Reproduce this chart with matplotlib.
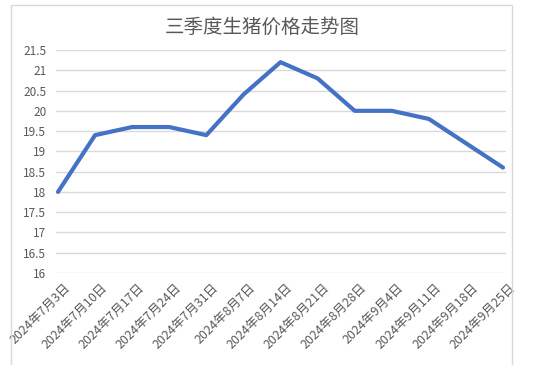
import matplotlib
matplotlib.use('Agg')
import matplotlib.pyplot as plt
import matplotlib.transforms as mtransforms
from matplotlib.patches import Rectangle

plt.rcParams['font.family'] = ['Noto Sans CJK SC', 'DejaVu Sans']

dates = ['2024年7月3日', '2024年7月10日', '2024年7月17日', '2024年7月24日',
         '2024年7月31日', '2024年8月7日', '2024年8月14日', '2024年8月21日',
         '2024年8月28日', '2024年9月4日', '2024年9月11日', '2024年9月18日',
         '2024年9月25日']
prices = [18.0, 19.4, 19.6, 19.6, 19.4, 20.4, 21.2, 20.8, 20.0, 20.0, 19.8, 19.2, 18.6]
yticks = [16, 16.5, 17, 17.5, 18, 18.5, 19, 19.5, 20, 20.5, 21, 21.5]

W, H = 549, 365
fig = plt.figure(figsize=(W / 100, H / 100), dpi=100)
fig.patch.set_facecolor('white')

# chart border like excel
fig.patches.append(Rectangle((11 / W, -0.05), (512 - 11) / W, 1.05 - 5 / H,
                             transform=fig.transFigure, fill=False,
                             edgecolor='#d9d9d9', lw=1))

ax = fig.add_axes([56 / W, 1 - 273 / H, (506 - 56) / W, (273 - 50) / H])
x = list(range(len(dates)))
ax.plot(x, prices, color='#4472C4', lw=3, solid_capstyle='round', solid_joinstyle='round')

ax.set_xlim(-0.054, 12.08)
ax.set_ylim(16, 21.5)
ax.set_yticks(yticks)
ax.set_yticklabels([('%g' % v) for v in yticks])
ax.grid(axis='y', color='#d9d9d9', lw=1)
ax.set_axisbelow(True)
for s in ax.spines.values():
    s.set_visible(False)
ax.tick_params(axis='y', length=0, pad=7, labelsize=8.5, labelcolor='#595959')
ax.tick_params(axis='x', length=0, pad=9, labelsize=9, labelcolor='#595959')
ax.set_xticks(x)
ax.set_xticklabels(dates, rotation=45, ha='right', va='center', rotation_mode='anchor')
offset = mtransforms.ScaledTranslation(10 / 100, 0, fig.dpi_scale_trans)
for lab in ax.get_xticklabels():
    lab.set_transform(lab.get_transform() + offset)

fig.text(262 / W, 1 - 27 / H, '三季度生猪价格走势图', ha='center', va='center',
         fontsize=14, color='#595959')

fig.savefig('out.png', dpi=100)
